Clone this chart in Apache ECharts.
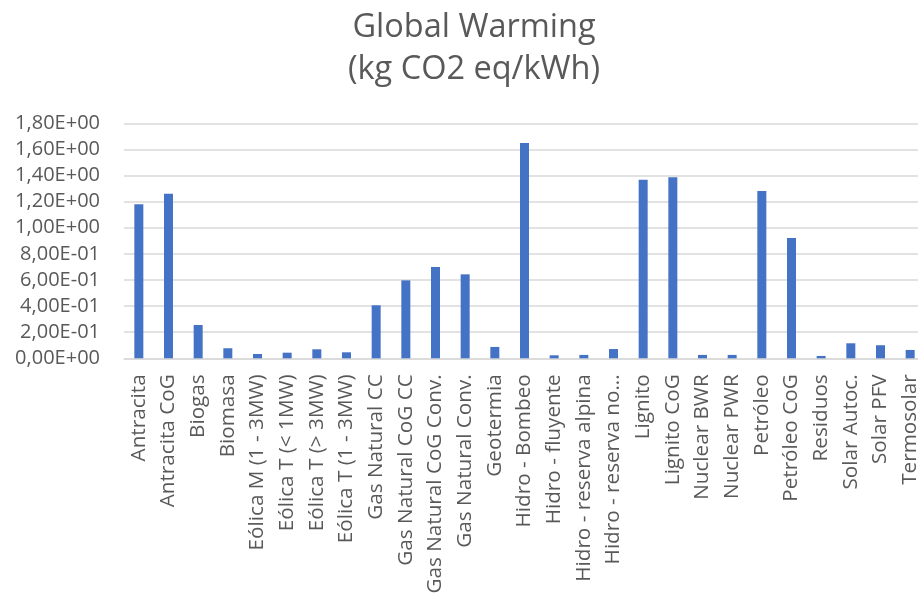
<!DOCTYPE html>
<html>
<head>
<meta charset="utf-8">
<script src="https://cdn.jsdelivr.net/npm/echarts@6/dist/echarts.min.js"></script>
<style>html,body{margin:0;padding:0;background:#fff}#c{width:918px;height:594px}</style>
</head>
<body>
<div id="c"></div>
<script>
const titleLines = ["Global Warming", "(kg CO2 eq/kWh)"];
const categories = ["Antracita","Antracita CoG","Biogas","Biomasa","Eólica M (1 - 3MW)","Eólica T (< 1MW)","Eólica T (> 3MW)","Eólica T (1 - 3MW)","Gas Natural CC","Gas Natural CoG CC","Gas Natural CoG Conv.","Gas Natural Conv.","Geotermia","Hidro - Bombeo","Hidro - fluyente","Hidro - reserva alpina","Hidro - reserva no...","Lignito","Lignito CoG","Nuclear BWR","Nuclear PWR","Petróleo","Petróleo CoG","Residuos","Solar Autoc.","Solar PFV","Termosolar"];
const values = [1.18,1.26,0.255,0.077,0.033,0.043,0.069,0.046,0.406,0.597,0.70,0.643,0.087,1.649,0.023,0.026,0.071,1.368,1.386,0.026,0.026,1.282,0.922,0.018,0.115,0.10,0.064];
const yMin = 0, yMax = 1.8, yStep = 0.2;

function sci(v){
  if (Math.abs(v) < 1e-12) return "0,00E+00";
  let e = Math.floor(Math.log10(Math.abs(v)) + 1e-9);
  let m = v / Math.pow(10, e);
  if (Math.round(m*100)/100 >= 10){ m/=10; e+=1; }
  const sign = e < 0 ? "-" : "+";
  const ea = Math.abs(e);
  return m.toFixed(2).replace(".", ",") + "E" + sign + (ea < 10 ? "0" + ea : ea);
}

const chart = echarts.init(document.getElementById('c'), null, {renderer:'canvas'});
chart.setOption({
  animation:false,
  backgroundColor:'#fff',
  title:{
    text: titleLines.join("\n"),
    left:469, top:2, textAlign:'center',
    textStyle:{fontFamily:'Open Sans', fontSize:32.5, fontWeight:'normal', color:'#595959', lineHeight:42}
  },
  grid:{left:124, right:-7, top:123.3, bottom:235.7, containLabel:false, outerBoundsMode:'none'},
  xAxis:{
    type:'category', data:categories,
    axisLine:{lineStyle:{color:'#d9d9d9', width:1.5}},
    axisTick:{show:false},
    axisLabel:{rotate:90, interval:0, margin:16, fontFamily:'Open Sans', fontSize:20.7, color:'#595959'}
  },
  yAxis:{
    type:'value', min:yMin, max:yMax, interval:yStep,
    axisLine:{show:false}, axisTick:{show:false},
    splitLine:{lineStyle:{color:'#d9d9d9', width:1.5}},
    axisLabel:{margin:24, fontFamily:'Open Sans', fontSize:20, color:'#595959', formatter:sci}
  },
  series:[{type:'bar', data:values, barWidth:9, itemStyle:{color:'#4472c4'}}]
});
</script>
</body>
</html>
